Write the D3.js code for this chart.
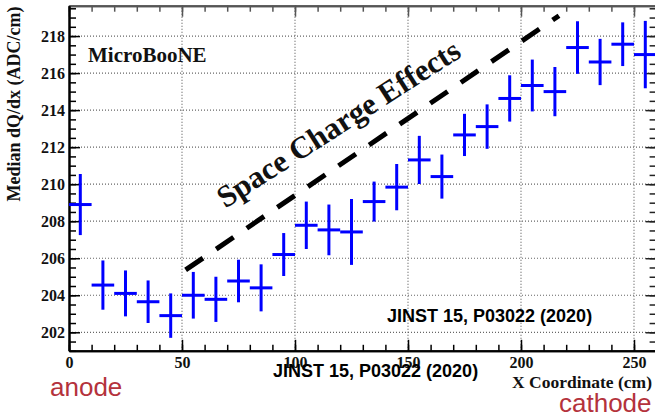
<!DOCTYPE html>
<html>
<head>
<meta charset="utf-8">
<script src="https://cdn.jsdelivr.net/npm/d3@7"></script>
<style>
	body {margin: 0; background: #fff;}
	svg {display: block;}
	.serif {font-family: "Liberation Serif", "Times New Roman", serif; font-weight: bold;}
	.sans {font-family: "Liberation Sans", Arial, sans-serif;}
</style>
</head>
<body>
<svg id="chart" width="655" height="416"></svg>
<script>
// bin centres (cm) and median dQ/dx per bin
var xCenters = [5, 15, 25, 35, 45, 55, 65, 75, 85, 95, 105, 115, 125, 135, 145, 155, 165, 175, 185, 195, 205, 215, 225, 235, 245, 255];
var medians = [208.9, 204.55, 204.1, 203.65, 202.9, 204.0, 203.78, 204.77, 204.4, 206.2, 207.78, 207.53, 207.42, 209.06, 209.84, 211.31, 210.41, 212.66, 213.11, 214.63, 215.33, 215.0, 217.38, 216.6, 217.56, 217.0];
var errors = [1.65, 1.33, 1.24, 1.15, 1.2, 1.26, 1.22, 1.15, 1.27, 1.16, 1.28, 1.37, 1.78, 1.08, 1.25, 1.3, 1.19, 1.14, 1.2, 1.25, 1.4, 1.33, 1.42, 1.25, 1.18, 1.82];
var binHalfWidth = 5;

// the "space charge effects" dashed guide line, in data units
var guideLine = [[51.6, 205.37], [216.8, 219.1]];

var xTicks = [0, 50, 100, 150, 200, 250];
var yTicks = [202, 204, 206, 208, 210, 212, 214, 216, 218];
var xMinorTicks = d3.range(0, 261, 10);
var yMinorTicks = d3.range(201, 219.6, 0.5);

var xDomain = [0, 260],
	yDomain = [201, 219.64];

var svg = d3.select("#chart");
var x = d3.scaleLinear().domain(xDomain).range([69, 656.6]);
var y = d3.scaleLinear().domain(yDomain).range([350.8, 5.7]);

// dotted grid at the major ticks
var grid = svg.append("g")
	.attr("stroke", "#666")
	.attr("stroke-width", 1.2)
	.attr("stroke-dasharray", "1,2");
grid.selectAll("line.gx").data(xTicks.filter(function(d) {return d > 0}))
	.enter().append("line")
	.attr("x1", function(d) {return x(d)}).attr("x2", function(d) {return x(d)})
	.attr("y1", y(yDomain[0])).attr("y2", y(yDomain[1]));
grid.selectAll("line.gy").data(yTicks)
	.enter().append("line")
	.attr("x1", x(xDomain[0])).attr("x2", x(xDomain[1]))
	.attr("y1", function(d) {return y(d)}).attr("y2", function(d) {return y(d)});

// ROOT style frame: ticks on all four sides, pointing in
function noLabels() {return ""}
function styleAxis(g, colour, width) {
	g.select(".domain").attr("stroke", colour).attr("stroke-width", width);
	g.selectAll(".tick line").attr("stroke", colour).attr("stroke-width", 1.5);
	g.selectAll("text").attr("class", "serif").attr("font-size", 16).attr("fill", "#111");
}

svg.append("g").attr("transform", "translate(0," + y(yDomain[1]) + ")")
	.call(d3.axisTop(x).tickValues(xMinorTicks).tickSize(-6).tickSizeOuter(0).tickFormat(noLabels))
	.call(styleAxis, "#555", 2);
svg.append("g").attr("transform", "translate(0," + y(yDomain[1]) + ")")
	.call(d3.axisTop(x).tickValues(xTicks).tickSize(-11).tickSizeOuter(0).tickFormat(noLabels))
	.call(styleAxis, "#555", 2);

svg.append("g").attr("transform", "translate(" + x(xDomain[1]) + ",0)")
	.call(d3.axisRight(y).tickValues(yMinorTicks).tickSize(-7).tickSizeOuter(0).tickFormat(noLabels))
	.call(styleAxis, "#222", 2);
svg.append("g").attr("transform", "translate(" + x(xDomain[1]) + ",0)")
	.call(d3.axisRight(y).tickValues(yTicks).tickSize(-11).tickSizeOuter(0).tickFormat(noLabels))
	.call(styleAxis, "#222", 2);

svg.append("g").attr("transform", "translate(0," + y(yDomain[0]) + ")")
	.call(d3.axisBottom(x).tickValues(xMinorTicks).tickSize(-6).tickSizeOuter(0).tickFormat(noLabels))
	.call(styleAxis, "#000", 2);
svg.append("g").attr("transform", "translate(0," + y(yDomain[0]) + ")")
	.call(d3.axisBottom(x).tickValues(xTicks).tickSize(-11).tickSizeOuter(0).tickPadding(6).tickFormat(d3.format("d")))
	.call(styleAxis, "#000", 2);

svg.append("g").attr("transform", "translate(" + x(xDomain[0]) + ",0)")
	.call(d3.axisLeft(y).tickValues(yMinorTicks).tickSize(-7).tickSizeOuter(0).tickFormat(noLabels))
	.call(styleAxis, "#000", 2);
svg.append("g").attr("transform", "translate(" + x(xDomain[0]) + ",0)")
	.call(d3.axisLeft(y).tickValues(yTicks).tickSize(-11).tickSizeOuter(0).tickPadding(4).tickFormat(d3.format("d")))
	.call(styleAxis, "#000", 2);

// dashed guide
svg.append("path")
	.datum(guideLine)
	.attr("d", d3.line().x(function(d) {return x(d[0])}).y(function(d) {return y(d[1])}))
	.attr("stroke", "#000")
	.attr("stroke-width", 5)
	.attr("stroke-dasharray", "21,16")
	.attr("fill", "none");

// error crosses: horizontal = bin width, vertical = error on median
var points = xCenters.map(function(xc, i) {return {x: xc, y: medians[i], err: errors[i]}});
var crosses = svg.append("g")
	.attr("stroke", "#0000ff")
	.attr("stroke-width", 3)
	.selectAll("g").data(points).enter().append("g");
crosses.append("line")
	.attr("x1", function(d) {return x(d.x - binHalfWidth)})
	.attr("x2", function(d) {return x(d.x + binHalfWidth)})
	.attr("y1", function(d) {return y(d.y)})
	.attr("y2", function(d) {return y(d.y)});
crosses.append("line")
	.attr("x1", function(d) {return x(d.x)})
	.attr("x2", function(d) {return x(d.x)})
	.attr("y1", function(d) {return y(d.y - d.err)})
	.attr("y2", function(d) {return y(d.y + d.err)});

// labels
svg.append("text").attr("class", "serif")
	.attr("x", 88).attr("y", 61.5)
	.attr("font-size", 21).attr("fill", "#111")
	.text("MicroBooNE");

var angle = Math.atan2(y(guideLine[0][1]) - y(guideLine[1][1]), x(guideLine[1][0]) - x(guideLine[0][0])) * 180 / Math.PI;
svg.append("text").attr("class", "serif")
	.attr("transform", "translate(" + x(121.7) + "," + y(212.8) + ") rotate(" + (-angle + 1.5) + ")")
	.attr("text-anchor", "middle")
	.attr("font-size", 31).attr("fill", "#111")
	.text("Space Charge Effects");

svg.append("text").attr("class", "serif")
	.attr("transform", "translate(20,104) rotate(-90)")
	.attr("text-anchor", "middle")
	.attr("font-size", 18).attr("fill", "#111")
	.text("Median dQ/dx (ADC/cm)");

svg.append("text").attr("class", "serif")
	.attr("x", 652).attr("y", 388)
	.attr("text-anchor", "end")
	.attr("font-size", 17.5).attr("fill", "#111")
	.text("X Coordinate (cm)");

svg.append("text").attr("class", "sans")
	.attr("x", 387).attr("y", 321.5)
	.attr("font-size", 18).attr("font-weight", "bold").attr("fill", "#000")
	.text("JINST 15, P03022 (2020)");
svg.append("text").attr("class", "sans")
	.attr("x", 273).attr("y", 377)
	.attr("font-size", 18).attr("font-weight", "bold").attr("fill", "#000")
	.text("JINST 15, P03022 (2020)");

svg.append("text").attr("class", "sans")
	.attr("x", 50).attr("y", 396)
	.attr("font-size", 26).attr("fill", "#b4323c")
	.text("anode");
svg.append("text").attr("class", "sans")
	.attr("x", 559).attr("y", 412)
	.attr("font-size", 26).attr("fill", "#b4323c")
	.text("cathode");
</script>
</body>
</html>
